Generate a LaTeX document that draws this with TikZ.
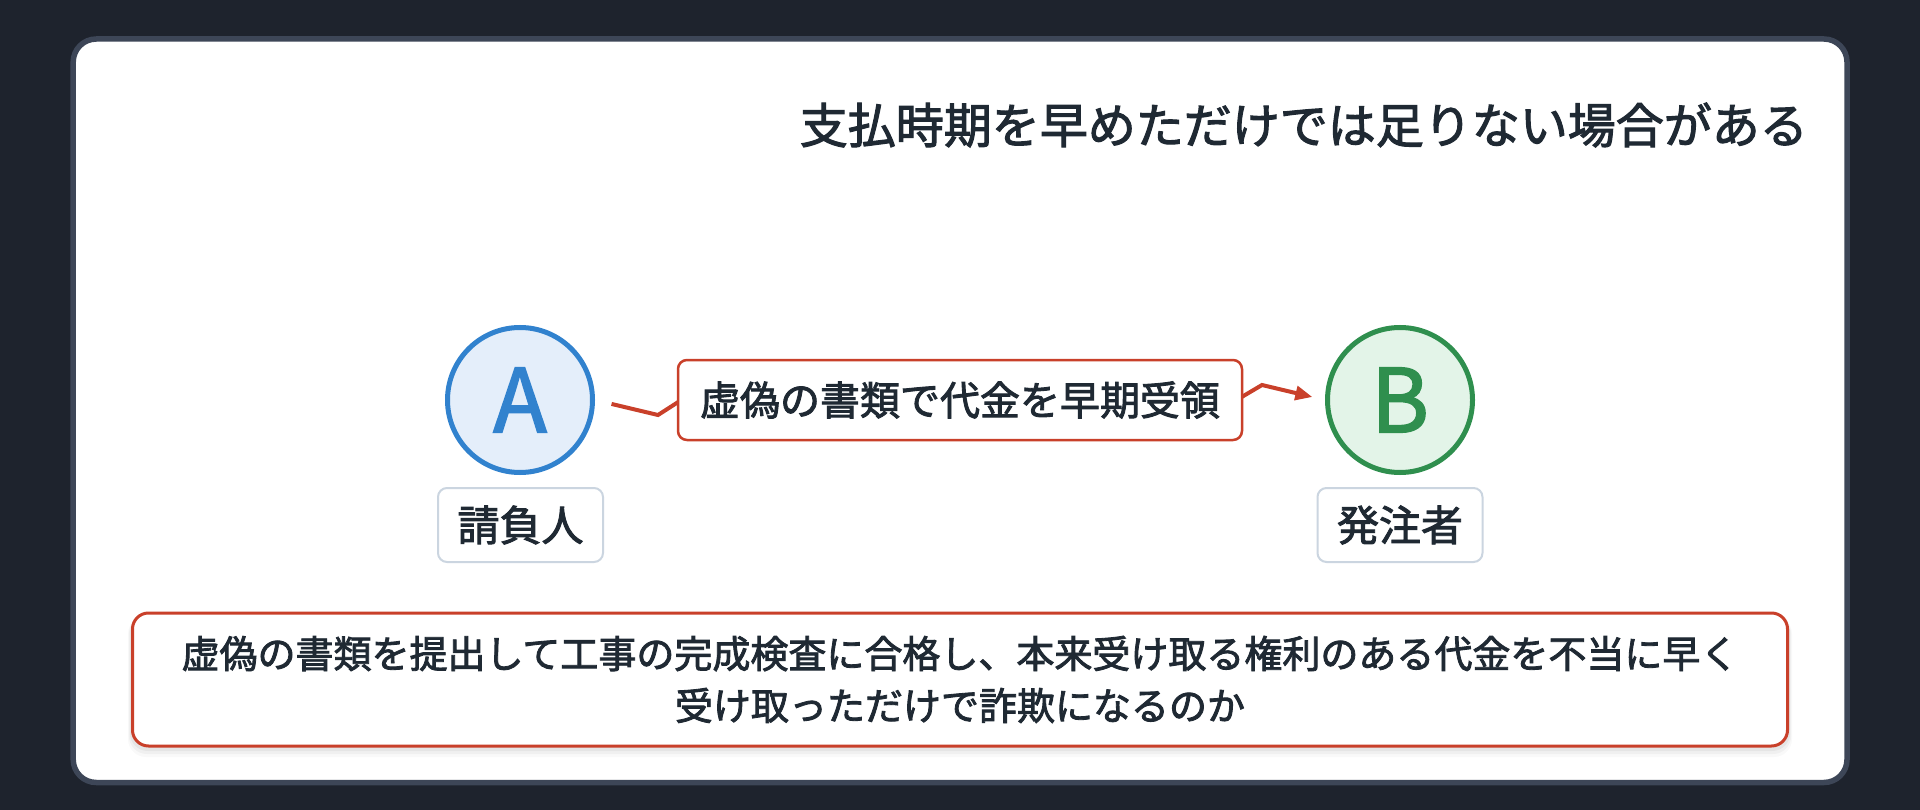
\documentclass[tikz,border=0pt]{standalone}
\usepackage{fontspec}
\newfontfamily\jp{Noto Sans CJK JP}[FakeBold=2.2]
\newfontfamily\jpl{Noto Sans CJK JP}[FakeBold=2]
\usetikzlibrary{arrows.meta}
\definecolor{bgc}{HTML}{1E232D}
\definecolor{cardborder}{HTML}{3D4657}
\definecolor{txt}{HTML}{1F2933}
\definecolor{redc}{HTML}{C9402A}
\definecolor{bluec}{HTML}{3182CE}
\definecolor{bluefill}{HTML}{E4EEFA}
\definecolor{greenc}{HTML}{2F8F4E}
\definecolor{greenfill}{HTML}{E3F4E8}
\definecolor{lblborder}{HTML}{CBD5E0}
\tikzset{
  actor/.style={circle, minimum size=145pt, inner sep=0pt, line width=5pt, font=\jpl\fontsize{88}{88}\selectfont},
  namebox/.style={draw=lblborder, line width=2pt, fill=white, rounded corners=9pt, minimum width=165pt, minimum height=74pt, inner sep=0pt, text=txt, font=\jp\fontsize{42}{42}\selectfont},
  midbox/.style={draw=redc, line width=2.5pt, fill=white, rounded corners=9pt, minimum width=564pt, minimum height=80pt, inner sep=0pt, text=txt, font=\jp\fontsize{40}{40}\selectfont},
  notebox/.style={draw=redc, line width=3pt, fill=white, rounded corners=16pt, minimum width=1655pt, minimum height=133pt, inner sep=0pt, text=txt, align=center, font=\jp\fontsize{38}{52}\selectfont},
  flow/.style={draw=redc, line width=4pt, miter limit=10}
}
\begin{document}
\begin{tikzpicture}[x=1pt, y=-1pt]
\useasboundingbox (0,0) rectangle (1920,810);
\fill[bgc] (0,0) rectangle (1920,810);
\filldraw[fill=white, draw=cardborder, line width=5.5pt, rounded corners=23pt] (73.2,39) rectangle (1847,782.5);

\node[anchor=east, inner sep=0pt, text=txt, font=\jp\fontsize{48}{48}\selectfont] (title) at (1808,125) {支払時期を早めただけでは足りない場合がある};

% shadow of note box
\foreach \k/\o in {10/0.025, 7/0.035, 4/0.045}{
  \fill[black, opacity=\o, rounded corners=18pt] (131-\k*0.3,616) rectangle (1789+\k*0.3,747+\k);
}

\node[actor, draw=bluec, fill=bluefill, text=bluec] (A) at (520,400) {A};
\node[actor, draw=greenc, fill=greenfill, text=greenc] (B) at (1400,400) {B};

\node[namebox] (la) at (520.5,525) {請負人};
\node[namebox] (lb) at (1400,525) {発注者};

\coordinate (c1) at (658,415);
\coordinate (c2) at (700,388);
\coordinate (c3) at (1240,398);
\coordinate (c4) at (1262,385);
\draw[flow, -{Triangle[length=17pt,width=14pt]}, shorten <=17pt, shorten >=13pt]
  (A.east) -- (c1) -- (c2) -- (c3) -- (c4) -- (B.west);

\node[midbox] (mid) at (960,400) {虚偽の書類で代金を早期受領};

\node[notebox] (note) at (960,679.5) {虚偽の書類を提出して工事の完成検査に合格し、本来受け取る権利のある代金を不当に早く\\受け取っただけで詐欺になるのか};
\end{tikzpicture}
\end{document}
